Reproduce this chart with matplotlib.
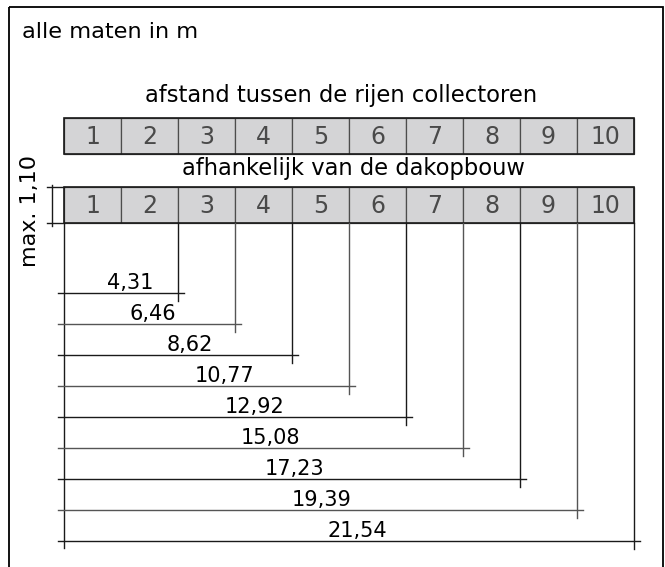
import matplotlib
matplotlib.use("Agg")
import matplotlib.pyplot as plt
from matplotlib.patches import Rectangle

# collectors and the row distances (m) for 2..10 collectors
collectors = [1, 2, 3, 4, 5, 6, 7, 8, 9, 10]
distances = [4.31, 6.46, 8.62, 10.77, 12.92, 15.08, 17.23, 19.39, 21.54]
labels = ["4,31", "6,46", "8,62", "10,77", "12,92", "15,08", "17,23", "19,39", "21,54"]

# small horizontal shifts (px) of the labels, as in the drawing
label_shift = [9, 3, 12, 18, 20, 7, 3, 1, 8]

total = distances[-1]
cell_w = total / len(collectors)

# pixel scale of the drawing: left edge of the collectors at px 64, right at 634
k = (634 - 64) / total


def mx(px):
    "pixel x -> metres"
    return (px - 64) / k


fig = plt.figure(figsize=(6.65, 5.67), dpi=100)
ax = fig.add_axes([0, 0, 1, 1])
ax.set_xlim(mx(0), mx(665))
ax.set_ylim(567, 0)
ax.axis("off")

font = "DejaVu Sans"
dark = "#1a1a1a"
grey = "#4d4d4d"

# outer frame
ax.add_patch(Rectangle((mx(9), 7), mx(663) - mx(9), 570, fill=False,
                       edgecolor="black", lw=1.3, clip_on=False))

ax.text(mx(22), 38, "alle maten in m", fontsize=16.2, family=font, va="baseline")
ax.text(mx(341), 102, "afstand tussen de rijen collectoren", fontsize=16.3,
        family=font, ha="center", va="baseline")
ax.text(mx(353), 175, "afhankelijk van de dakopbouw", fontsize=16.3,
        family=font, ha="center", va="baseline")

# two rows of collectors
for top, bottom in [(118, 154), (187, 223)]:
    for i, c in enumerate(collectors):
        ax.add_patch(Rectangle((i * cell_w, top), cell_w, bottom - top,
                               facecolor="#d4d4d6", edgecolor=grey, lw=0.9))
        ax.text((i + 0.5) * cell_w, (top + bottom) / 2 + 1, str(c), fontsize=17,
                family=font, color="#4a4a4a", ha="center", va="center")
    ax.add_patch(Rectangle((0, top), total, bottom - top, fill=False,
                           edgecolor=dark, lw=1.2))

# height dimension of the row
ax.plot([mx(52), mx(52)], [185, 226], color=dark, lw=1)
ax.plot([mx(47), 0], [187, 187], color=dark, lw=1)
ax.plot([mx(47), 0], [223, 223], color=dark, lw=1)
ax.text(mx(30), 211, "max. 1,10", fontsize=16, family=font, rotation=90,
        ha="center", va="center")

# distance dimensions
tick = 6 / k
y0, step = 293, 31
ys = [y0 + step * j for j in range(len(distances))]
ax.plot([0, 0], [223, ys[-1] + 7], color=dark, lw=1)
for j, (d, lab) in enumerate(zip(distances, labels)):
    y = ys[j]
    col = dark if j % 2 == 0 else "#555555"
    ax.plot([-tick, d + tick], [y, y], color=col, lw=1)
    ax.plot([d, d], [223, y + 8], color=col, lw=1)
    ax.text(d / 2 + label_shift[j] / k, y - 4, lab, fontsize=15, family=font,
            ha="center", va="baseline")

fig.savefig("out.png", dpi=100)
